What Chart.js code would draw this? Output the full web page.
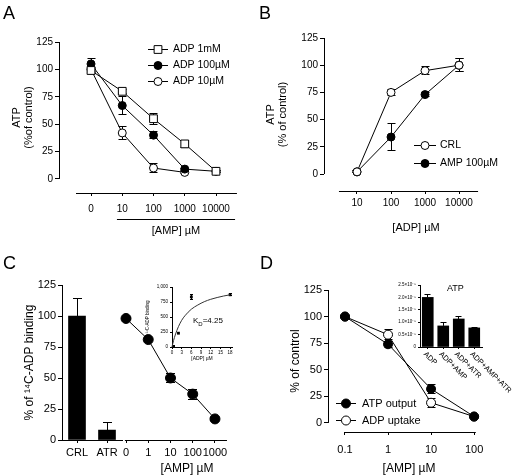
<!DOCTYPE html>
<html>
<head>
<meta charset="utf-8">
<script src="https://cdn.jsdelivr.net/npm/chart.js@4.4.1/dist/chart.umd.min.js"></script>
<style>
  body { margin: 0; background: #fff; }
  #fig { position: relative; width: 513px; height: 476px; overflow: hidden;
         font-family: "Liberation Sans", Arial, sans-serif; color: #000; }
  #fig canvas { position: absolute; }
  .letter { position: absolute; font-size: 18px; line-height: 18px; }
  .note { position: absolute; white-space: nowrap; }
</style>
</head>
<body>
<div id="fig">
  <canvas id="cA" width="256" height="240" style="left:0;top:0"></canvas>
  <canvas id="cB" width="257" height="240" style="left:256px;top:0"></canvas>
  <canvas id="cC1" width="256" height="236" style="left:0;top:240px"></canvas>
  <canvas id="cC2" width="256" height="236" style="left:0;top:240px"></canvas>
  <canvas id="cCi" width="110" height="90" style="left:130px;top:278px"></canvas>
  <canvas id="cD" width="257" height="240" style="left:256px;top:240px"></canvas>
  <canvas id="cDi" width="133" height="120" style="left:380px;top:278px"></canvas>

  <div class="letter" style="left:3px;top:4px">A</div>
  <div class="letter" style="left:259px;top:4px">B</div>
  <div class="letter" style="left:3px;top:254px">C</div>
  <div class="letter" style="left:260px;top:254px">D</div>
  <div class="note" style="left:193px;top:316px;font-size:8px">K<sub style="font-size:6px">D</sub>=4.25</div>
  <div class="note" style="left:447px;top:284px;font-size:9px;line-height:9px">ATP</div>
</div>
<script>
Chart.defaults.font.family = '"Liberation Sans", Arial, sans-serif';
Chart.defaults.color = '#000';

// A: ATP vs [AMP] at three ADP concentrations
const ampA = ['0', '10', '100', '1000', '10000'];
const adp1mM = [99, 80, 55, 32, 7];
const adp1mMErr = [2, 2, 5, 3, 1];
const adp100uM = [105, 67, 40, 9, 7];
const adp100uMErr = [5, 8, 3, 1, 1];
const adp10uM = [100, 42, 10, 6];
const adp10uMErr = [2, 6, 4, 1];

// B: ATP vs [ADP]
const adpB = ['10', '100', '1000', '10000'];
const crl = [2, 75, 95, 100];
const crlErr = [1, 3, 4, 6];
const amp100 = [2, 34, 73, 100];
const amp100Err = [1, 12, 2, 6];

// C: 14C-ADP binding
const bindCats = ['CRL', 'ATR'];
const bindVals = [100, 8];
const bindErr = [14, 6];
const ampC = ['0', '1', '10', '100', '1000'];
const ampBind = [98, 81, 50, 37, 17];
const ampBindErr = [1, 1, 4, 4, 1];
// C inset: saturation binding
const satAdp = [0.5, 2, 6, 18];
const satBind = [10, 230, 835, 870];
const satErr = [0, 0, 40, 15];
const fitAdp = [0, 0.5, 1, 2, 3, 4, 6, 8, 10, 12, 14, 16, 18];
const fitBind = [0, 110, 200, 340, 445, 520, 630, 700, 755, 795, 825, 850, 870];

// D: ATP output / ADP uptake
const ampD = ['0.1', '1', '10', '100'];
const atpOut = [100, 74, 32, 6];
const atpOutErr = [1, 3, 4, 1];
const adpUp = [100, 83, 19, 6];
const adpUpErr = [1, 5, 4, 1];
// D inset
const atpCats = ['ADP', 'ADP+AMP', 'ADP+ATR', 'ADP+AMP+ATR'];
const atpVals = [2.0e-5, 0.85e-5, 1.13e-5, 0.77e-5];
const atpErr = [0.1e-5, 0.12e-5, 0.12e-5, 0.03e-5];

// tick values
const pctTicks = [0, 25, 50, 75, 100, 125];
const bindTicks = [0, 250, 500, 750, 1000];
const adpTicks = [0, 3, 6, 9, 12, 15, 18];
const atpTicks = [0, 0.5e-5, 1.0e-5, 1.5e-5, 2.0e-5, 2.5e-5];

const align = p => Math.round(p - 0.5) + 0.5;

// prism-style extras: error bars, detached axis lines, legend, slanted labels
const prism = {
  id: 'prism',
  beforeDatasetsDraw(chart, args, o) {
    const ctx = chart.ctx;
    ctx.save();
    ctx.strokeStyle = '#000';
    ctx.lineWidth = 1;
    chart.data.datasets.forEach((ds, i) => {
      if (!ds.errors) return;
      const meta = chart.getDatasetMeta(i);
      const ys = chart.scales[meta.yAxisID];
      meta.data.forEach((el, j) => {
        const e = ds.errors[j];
        if (!e) return;
        const raw = ds.data[j];
        const v = typeof raw === 'object' ? raw.y : raw;
        const x = align(el.x);
        const top = ys.getPixelForValue(v + e);
        const bot = ds.errUp ? el.y : ys.getPixelForValue(v - e);
        const c = o.cap || 4;
        ctx.beginPath();
        ctx.moveTo(x, top); ctx.lineTo(x, bot);
        ctx.moveTo(x - c, align(top)); ctx.lineTo(x + c, align(top));
        if (!ds.errUp) { ctx.moveTo(x - c, align(bot)); ctx.lineTo(x + c, align(bot)); }
        ctx.stroke();
      });
    });
    ctx.restore();
  },
  afterDraw(chart, args, o) {
    const { ctx, chartArea: ca, scales } = chart;
    const xs = scales.x, ys = scales.y;
    ctx.save();
    ctx.strokeStyle = '#000';
    ctx.fillStyle = '#000';
    ctx.lineWidth = 1;
    if (o.yLine) {
      const x = align(ca.left);
      ctx.beginPath();
      ctx.moveTo(x, ys.getPixelForValue(o.yLine[1]));
      ctx.lineTo(x, ys.getPixelForValue(o.yLine[0]));
      ctx.stroke();
    }
    if (o.xLine) {
      const y = align(ca.bottom);
      ctx.beginPath();
      ctx.moveTo(xs.getPixelForValue(o.xLine[0]), y);
      ctx.lineTo(xs.getPixelForValue(o.xLine[1]), y);
      ctx.stroke();
    }
    if (o.under) {
      const u = o.under;
      const y = align(ca.bottom + u.dy);
      const x0 = xs.getPixelForValue(u.from), x1 = xs.getPixelForValue(u.to);
      ctx.beginPath(); ctx.moveTo(x0, y); ctx.lineTo(x1, y); ctx.stroke();
      ctx.font = u.size + 'px ' + Chart.defaults.font.family;
      ctx.textAlign = 'center';
      ctx.textBaseline = 'middle';
      ctx.fillText(u.text, (x0 + x1) / 2, y + u.ty);
    }
    if (o.legend) {
      const g = o.legend;
      ctx.font = g.size + 'px ' + Chart.defaults.font.family;
      ctx.textAlign = 'left';
      ctx.textBaseline = 'middle';
      chart.data.datasets.forEach((ds, k) => {
        const y = align(g.y + k * g.dy);
        ctx.strokeStyle = '#000';
        ctx.beginPath(); ctx.moveTo(g.x, y); ctx.lineTo(g.x + g.len, y); ctx.stroke();
        ctx.fillStyle = ds.pointBackgroundColor;
        ctx.strokeStyle = ds.pointBorderColor;
        ctx.lineWidth = ds.pointBorderWidth;
        Chart.helpers.drawPoint(ctx, { pointStyle: ds.pointStyle, rotation: 0,
          radius: ds.pointRadius, borderWidth: ds.pointBorderWidth }, g.x + g.len / 2, y);
        ctx.lineWidth = 1;
        ctx.fillStyle = '#000';
        ctx.fillText(ds.label, g.x + g.len + g.gap, y);
      });
    }
    if (o.slant) {
      const s = o.slant;
      ctx.font = s.size + 'px ' + Chart.defaults.font.family;
      ctx.textAlign = 'left';
      ctx.textBaseline = 'middle';
      xs.ticks.forEach((t, i) => {
        ctx.save();
        ctx.translate(xs.getPixelForTick(i) + s.dx, ca.bottom + s.dy);
        ctx.rotate(Math.PI / 4);
        ctx.fillText(chart.data.labels[i], 0, 0);
        ctx.restore();
      });
    }
    ctx.restore();
  }
};

const base = {
  responsive: false,
  animation: false,
  events: []
};
const noLegend = { legend: { display: false }, tooltip: { enabled: false } };

function pts(vals) {
  return vals.map((v, i) => ({ x: i, y: v }));
}

function series(label, vals, errs, style, fill, r) {
  return {
    label, data: pts(vals), errors: errs,
    borderColor: '#000', borderWidth: 1,
    pointStyle: style, pointRadius: r, pointHoverRadius: r,
    pointBackgroundColor: fill, pointBorderColor: '#000', pointBorderWidth: 1,
    clip: false
  };
}

function xAxis(labels, min, max, h, size, pad, title) {
  return {
    type: 'linear', min, max, bounds: 'data',
    afterBuildTicks: s => { s.ticks = labels.map((_, i) => ({ value: i })); },
    afterFit: s => { s.height = h; },
    ticks: { callback: v => labels[v], font: { size }, padding: pad, maxRotation: 0, autoSkip: false },
    grid: { display: true, drawOnChartArea: false, drawTicks: true, tickLength: 3, color: '#000' },
    border: { display: false },
    title: title ? { display: true, text: title.text, font: { size: title.size },
      padding: { top: 0, bottom: title.pb } } : { display: false }
  };
}

function yAxis(min, max, ticks, w, size, title, tl, border) {
  return {
    min, max, bounds: 'data',
    afterBuildTicks: s => { s.ticks = ticks.map(v => ({ value: v })); },
    afterFit: s => { s.width = w; },
    ticks: { font: { size }, padding: 2 },
    grid: { display: true, drawOnChartArea: false, drawTicks: true, tickLength: tl || 4, color: '#000' },
    border: { display: !!border, color: '#000' },
    title: { display: true, text: title.text, font: { size: title.size, lineHeight: 1.1 },
      padding: { top: title.pad, bottom: 0 } }
  };
}

// ---------- A
new Chart(document.getElementById('cA'), {
  type: 'line',
  data: { datasets: [
    series('ADP 1mM', adp1mM, adp1mMErr, 'rect', '#fff', 5.5),
    series('ADP 100µM', adp100uM, adp100uMErr, 'circle', '#000', 4),
    series('ADP 10µM', adp10uM, adp10uMErr, 'circle', '#fff', 4)
  ] },
  options: Object.assign({}, base, {
    layout: { autoPadding: false, padding: { top: 42, right: 16, bottom: 0, left: 0 } },
    scales: {
      x: xAxis(ampA, -1.024, 4.768, 47, 10, 7, null),
      y: yAxis(-12.8, 125, pctTicks, 59, 10, { text: ['ATP', '(%of control)'], size: 11, pad: 11 })
    },
    plugins: Object.assign({}, noLegend, { prism: {
      cap: 4, yLine: [0, 125], xLine: [-0.48, 4.67],
      under: { from: 0.83, to: 4.61, dy: 26, text: '[AMP] µM', ty: 11, size: 11 },
      legend: { x: 148, y: 49, dy: 16, len: 20, gap: 5, size: 10.5 }
    } })
  }),
  plugins: [prism]
});

// ---------- B
new Chart(document.getElementById('cB'), {
  type: 'line',
  data: { datasets: [
    series('CRL', crl, crlErr, 'circle', '#fff', 4),
    series('AMP 100µM', amp100, amp100Err, 'circle', '#000', 4)
  ] },
  options: Object.assign({}, base, {
    layout: { autoPadding: false, padding: { top: 38, right: 5, bottom: 0, left: 0 } },
    scales: {
      x: xAxis(adpB, -0.97, 4.44, 49, 10, 3, { text: '[ADP] µM', size: 11, pb: 5 }),
      y: yAxis(-15.6, 125, pctTicks, 68, 10, { text: ['ATP', '(% of control)'], size: 11, pad: 9 })
    },
    plugins: Object.assign({}, noLegend, { prism: {
      cap: 4, yLine: [0, 125], xLine: [-0.53, 3.56],
      legend: { x: 158, y: 145, dy: 18, len: 22, gap: 4, size: 10.5 }
    } })
  }),
  plugins: [prism]
});

// ---------- C bars
new Chart(document.getElementById('cC1'), {
  type: 'bar',
  data: { labels: bindCats, datasets: [{
    data: bindVals, errors: bindErr, errUp: true, backgroundColor: '#000', barThickness: 17
  }] },
  options: Object.assign({}, base, {
    layout: { autoPadding: false, padding: { top: 45, right: 134, bottom: 0, left: 0 } },
    scales: {
      x: {
        type: 'category', offset: true,
        afterFit: s => { s.height = 36; },
        ticks: { font: { size: 11 }, padding: 3 },
        grid: { display: true, offset: false, drawOnChartArea: false, tickLength: 3, color: '#000' },
        border: { display: true, color: '#000' }
      },
      y: yAxis(0, 125, pctTicks, 62, 11, { text: '% of ¹⁴C-ADP binding', size: 12, pad: 23 }, 4, true)
    },
    plugins: Object.assign({}, noLegend, { prism: { cap: 4.5 } })
  }),
  plugins: [prism]
});

// ---------- C line
new Chart(document.getElementById('cC2'), {
  type: 'line',
  data: { datasets: [series('AMP', ampBind, ampBindErr, 'circle', '#000', 5)] },
  options: Object.assign({}, base, {
    layout: { autoPadding: false, padding: { top: 45, right: 7, bottom: 0, left: 125 } },
    scales: {
      x: xAxis(ampC, -0.045, 5.53, 36, 11, 3.5, { text: '[AMP] µM', size: 12, pb: 0 }),
      y: { display: false, min: 0, max: 125 }
    },
    plugins: Object.assign({}, noLegend, { prism: { cap: 4.5, xLine: [-0.05, 4.54] } })
  }),
  plugins: [prism]
});

// ---------- C inset
new Chart(document.getElementById('cCi'), {
  type: 'line',
  data: { datasets: [
    { data: fitAdp.map((x, i) => ({ x, y: fitBind[i] })), pointRadius: 0, borderColor: '#333',
      borderWidth: 1, cubicInterpolationMode: 'monotone', clip: false },
    { data: satAdp.map((x, i) => ({ x, y: satBind[i] })), errors: satErr, showLine: false,
      pointStyle: 'rect', pointRadius: 2, pointBackgroundColor: '#000', pointBorderColor: '#000',
      pointBorderWidth: 0, clip: false }
  ] },
  options: Object.assign({}, base, {
    layout: { autoPadding: false, padding: { top: 9, right: 8, bottom: 0, left: 0 } },
    scales: {
      x: {
        type: 'linear', min: 0, max: 18.6, bounds: 'data',
        afterBuildTicks: s => { s.ticks = adpTicks.map(v => ({ value: v })); },
        afterFit: s => { s.height = 21; },
        ticks: { font: { size: 4.5 }, padding: 1, maxRotation: 0, autoSkip: false },
        grid: { display: true, drawOnChartArea: false, tickLength: 2, color: '#000' },
        border: { display: true, color: '#000' },
        title: { display: true, text: '[ADP] µM', font: { size: 5 }, padding: { top: 0, bottom: 6 } }
      },
      y: yAxis(0, 1000, bindTicks, 42, 4.5, { text: '¹⁴C-ADP binding', size: 4.5, pad: 15 }, 2, true)
    },
    plugins: Object.assign({}, noLegend, { prism: { cap: 1.5 } })
  }),
  plugins: [prism]
});

// ---------- D
new Chart(document.getElementById('cD'), {
  type: 'line',
  data: { datasets: [
    series('ATP output', atpOut, atpOutErr, 'circle', '#000', 4.5),
    series('ADP uptake', adpUp, adpUpErr, 'circle', '#fff', 4.5)
  ] },
  options: Object.assign({}, base, {
    layout: { autoPadding: false, padding: { top: 50, right: 23, bottom: 0, left: 0 } },
    scales: {
      x: xAxis(ampD, -0.395, 3.37, 48, 11, 8, { text: '[AMP] µM', size: 12, pb: 4 }),
      y: yAxis(-8.5, 125, pctTicks, 72, 11, { text: '% of control', size: 12, pad: 33 })
    },
    plugins: Object.assign({}, noLegend, { prism: {
      cap: 4, yLine: [0, 125], xLine: [-0.02, 3.04],
      legend: { x: 80, y: 163, dy: 17, len: 20, gap: 6, size: 11 }
    } })
  }),
  plugins: [prism]
});

// ---------- D inset
new Chart(document.getElementById('cDi'), {
  type: 'bar',
  data: { labels: atpCats, datasets: [{
    data: atpVals, errors: atpErr, errUp: true, backgroundColor: '#000', barThickness: 11
  }] },
  options: Object.assign({}, base, {
    layout: { autoPadding: false, padding: { top: 7, right: 31, bottom: 0, left: 0 } },
    scales: {
      x: {
        type: 'category', offset: true,
        afterFit: s => { s.height = 51; },
        ticks: { display: false },
        grid: { display: true, offset: false, drawOnChartArea: false, tickLength: 2, color: '#000' },
        border: { display: true, color: '#000' }
      },
      y: {
        min: 0, max: 2.5e-5, bounds: 'data',
        afterBuildTicks: s => { s.ticks = atpTicks.map(v => ({ value: v })); },
        afterFit: s => { s.width = 40; },
        ticks: { font: { size: 4.5 }, padding: 2,
          callback: v => v === 0 ? '0' : (v / 1e-5).toFixed(1) + '×10⁻⁵' },
        grid: { display: true, drawOnChartArea: false, tickLength: 2, color: '#000' },
        border: { display: true, color: '#000' }
      }
    },
    plugins: Object.assign({}, noLegend, { prism: { cap: 3, slant: { size: 7.5, dx: -3, dy: 6 } } })
  }),
  plugins: [prism]
});
</script>
</body>
</html>
